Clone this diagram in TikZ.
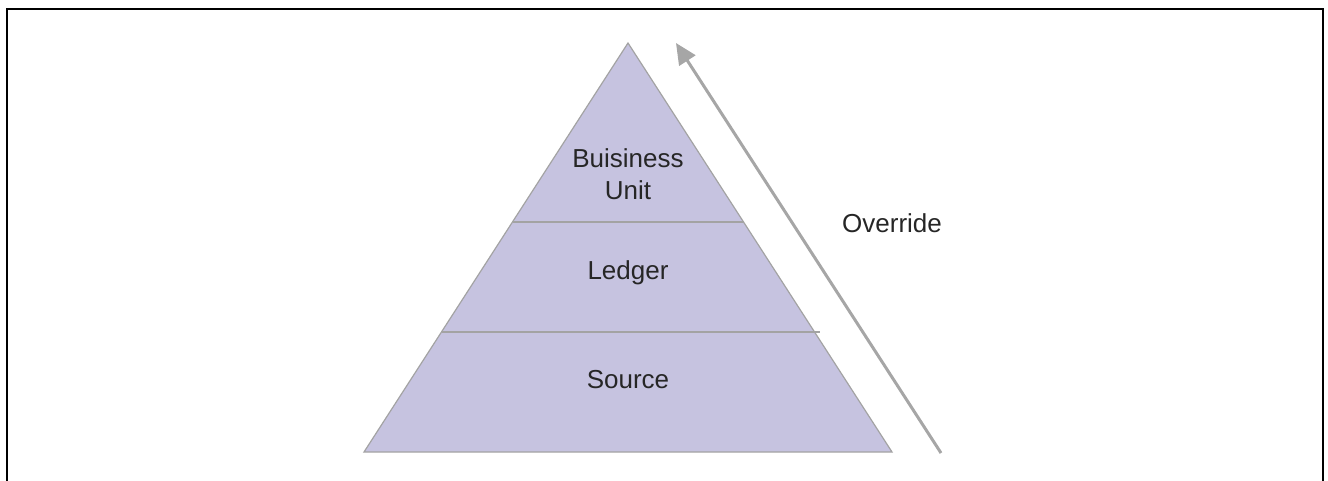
\documentclass[tikz,border=0pt]{standalone}
\usepackage{fontspec}
\setmainfont{Liberation Sans}
\usetikzlibrary{arrows.meta}
\definecolor{pyrfill}{HTML}{C6C3E0}
\definecolor{pyredge}{HTML}{A3A3A3}
\definecolor{arrowgray}{HTML}{A6A6A6}
\tikzset{
  label/.style={font=\fontsize{26}{32.5}\selectfont, text=black!85, align=center, inner sep=0pt},
  divider/.style={draw=pyredge, line width=1.4pt},
  override/.style={draw=arrowgray, line width=3pt, -{Triangle[length=21pt,width=19pt]}}
}
\begin{document}
\begin{tikzpicture}[x=1pt,y=-1pt]
\useasboundingbox (0,0) rectangle (1328,480);
% frame
\draw[line width=2.2pt] (7,495) -- (7,9) -- (1323,9) -- (1323,495);
% pyramid
\fill[pyrfill, draw=pyredge, line width=1.2pt] (628,43) -- (892,452) -- (364,452) -- cycle;
\draw[divider] (512.5,222) -- (743.5,222);
\draw[divider] (441.5,332) -- (820,332);
% labels
\node[label] (bu) at (628,174) {Buisiness\\Unit};
\node[label] (ledger) at (628,273) {Ledger};
\node[label] (source) at (628,380) {Source};
\node[label, anchor=base west] (ovr) at (842,232) {Override};
% arrow
\coordinate (arrstart) at (941,453);
\coordinate (arrend) at (676,43);
\draw[override] (arrstart) -- (arrend);
\end{tikzpicture}
\end{document}
